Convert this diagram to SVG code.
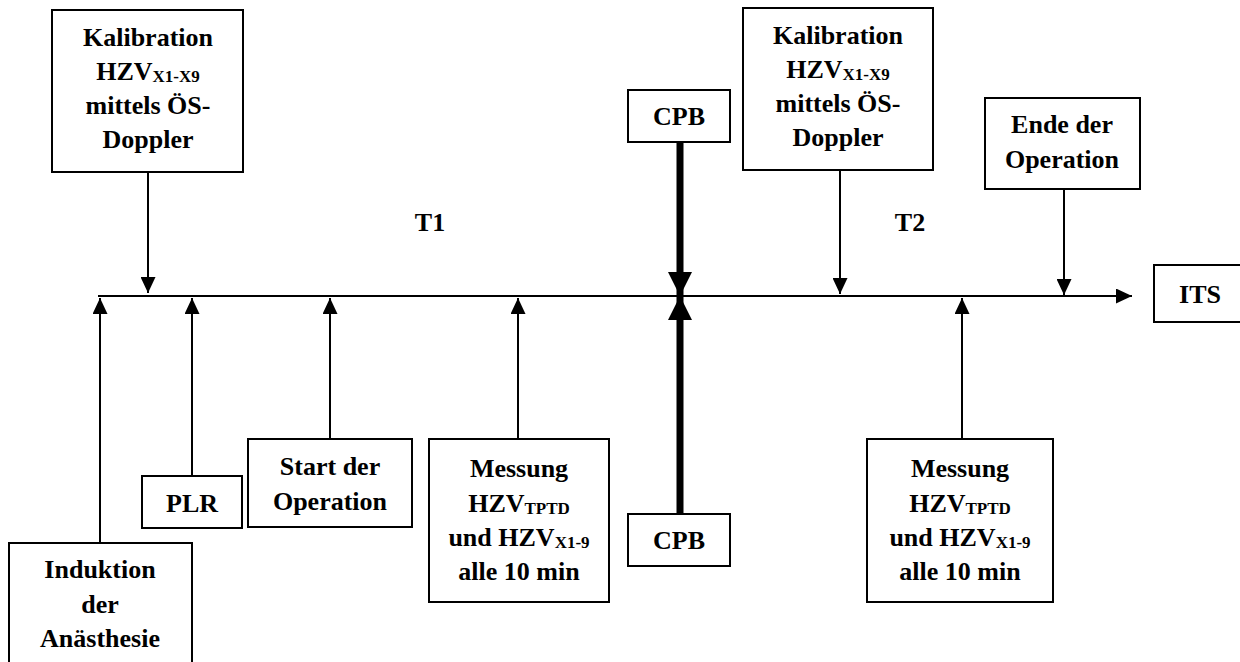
<svg xmlns="http://www.w3.org/2000/svg" width="1240" height="662" viewBox="0 0 1240 662" font-family="Liberation Serif, Times New Roman, serif">
<defs>
<style>
.b{fill:#fff;stroke:#000;stroke-width:2}
.t{font-weight:bold;font-size:26px;fill:#000;text-anchor:middle}
.s{font-size:17px}
.c{stroke:#000;stroke-width:2;fill:none}
.k{stroke:#000;stroke-width:7;fill:none}
</style>
<marker id="a" markerUnits="userSpaceOnUse" markerWidth="17" markerHeight="15" refX="16" refY="7.5" orient="auto"><path d="M0,0 L16,7.5 L0,15 z" fill="#000"/></marker>
<marker id="A" markerUnits="userSpaceOnUse" markerWidth="25" markerHeight="24" refX="24" refY="12" orient="auto"><path d="M0,0 L24,12 L0,24 z" fill="#000"/></marker>
</defs>
<rect width="1240" height="662" fill="#fff"/>
<g id="connectors">
<line class="c" x1="98" y1="296" x2="1132" y2="296" marker-end="url(#a)"/>
<line class="c" x1="148" y1="172" x2="148" y2="293" marker-end="url(#a)"/>
<line class="c" x1="840" y1="170" x2="840" y2="294" marker-end="url(#a)"/>
<line class="c" x1="1064" y1="189" x2="1064" y2="295" marker-end="url(#a)"/>
<line class="k" x1="680" y1="142" x2="680" y2="296" marker-end="url(#A)"/>
<line class="k" x1="680" y1="514" x2="680" y2="296" marker-end="url(#A)"/>
<line class="c" x1="100" y1="543" x2="100" y2="298" marker-end="url(#a)"/>
<line class="c" x1="192" y1="476" x2="192" y2="298" marker-end="url(#a)"/>
<line class="c" x1="330" y1="439" x2="330" y2="298" marker-end="url(#a)"/>
<line class="c" x1="518" y1="439" x2="518" y2="298" marker-end="url(#a)"/>
<line class="c" x1="962" y1="439" x2="962" y2="298" marker-end="url(#a)"/>
</g>
<g id="kal1"><rect class="b" x="52" y="10" width="191" height="162"/>
<text class="t" x="148" y="46">Kalibration</text>
<text class="t" x="148" y="80">HZV<tspan class="s" dy="2">X1-X9</tspan></text>
<text class="t" x="148" y="114">mittels ÖS-</text>
<text class="t" x="148" y="148">Doppler</text></g>
<g id="kal2"><rect class="b" x="743" y="8" width="190" height="162"/>
<text class="t" x="838" y="44">Kalibration</text>
<text class="t" x="838" y="78">HZV<tspan class="s" dy="2">X1-X9</tspan></text>
<text class="t" x="838" y="112">mittels ÖS-</text>
<text class="t" x="838" y="146">Doppler</text></g>
<g id="cpb1"><rect class="b" x="628" y="90" width="102" height="52"/>
<text class="t" x="679" y="125">CPB</text></g>
<g id="cpb2"><rect class="b" x="628" y="514" width="102" height="52"/>
<text class="t" x="679" y="549">CPB</text></g>
<g id="ende"><rect class="b" x="985" y="98" width="155" height="91"/>
<text class="t" x="1062" y="133">Ende der</text>
<text class="t" x="1062" y="168">Operation</text></g>
<g id="its"><rect class="b" x="1154" y="265" width="92" height="57"/>
<text class="t" x="1200" y="303">ITS</text></g>
<g id="t1"><text class="t" x="430" y="231">T1</text></g>
<g id="t2"><text class="t" x="910" y="231">T2</text></g>
<g id="induktion"><rect class="b" x="9" y="543" width="183" height="130"/>
<text class="t" x="100" y="578">Induktion</text>
<text class="t" x="100" y="613">der</text>
<text class="t" x="100" y="647">Anästhesie</text></g>
<g id="plr"><rect class="b" x="142" y="476" width="100" height="52"/>
<text class="t" x="192" y="512">PLR</text></g>
<g id="start"><rect class="b" x="248" y="439" width="164" height="88"/>
<text class="t" x="330" y="475">Start der</text>
<text class="t" x="330" y="510">Operation</text></g>
<g id="mess1"><rect class="b" x="429" y="439" width="180" height="163"/>
<text class="t" x="519" y="477">Messung</text>
<text class="t" x="519" y="512">HZV<tspan class="s" dy="2">TPTD</tspan></text>
<text class="t" x="519" y="546">und HZV<tspan class="s" dy="2">X1-9</tspan></text>
<text class="t" x="519" y="580">alle 10 min</text></g>
<g id="mess2"><rect class="b" x="867" y="439" width="186" height="163"/>
<text class="t" x="960" y="477">Messung</text>
<text class="t" x="960" y="512">HZV<tspan class="s" dy="2">TPTD</tspan></text>
<text class="t" x="960" y="546">und HZV<tspan class="s" dy="2">X1-9</tspan></text>
<text class="t" x="960" y="580">alle 10 min</text></g>
</svg>
